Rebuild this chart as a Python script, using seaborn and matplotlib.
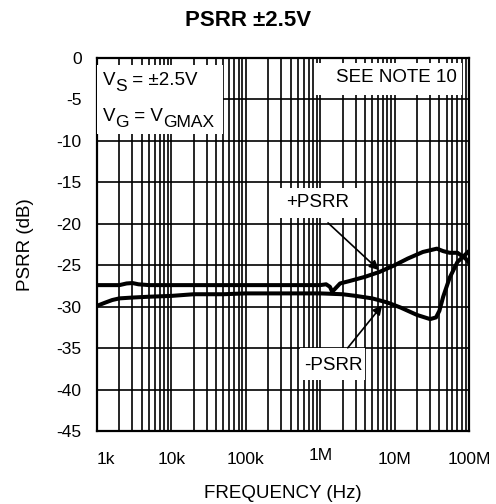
import numpy as np
import pandas as pd
import matplotlib
matplotlib.use("Agg")
import matplotlib.pyplot as plt
import matplotlib.transforms as mtrans
from matplotlib.patches import Rectangle
import seaborn as sns

# ---- data ----
freq_pos = [1e3, 2e3, 2.5e3, 3e3, 3.6e3, 5e3, 1e4, 1e5, 1e6, 1.2e6, 1.35e6,
            1.45e6, 1.6e6, 1.85e6, 2.5e6, 4e6, 6.3e6, 1e7, 1.5e7, 2.4e7,
            3.7e7, 4.5e7, 5.5e7, 7e7, 9e7, 1e8]
psrr_pos = [-27.4, -27.4, -27.2, -27.15, -27.3, -27.4, -27.4, -27.4, -27.4,
            -27.3, -27.6, -28.2, -27.8, -27.2, -26.9, -26.4, -25.8, -25.0,
            -24.2, -23.4, -23.0, -23.3, -23.5, -23.5, -24.2, -24.7]

freq_neg = [1e3, 1.3e3, 1.6e3, 2e3, 3e3, 5e3, 1e4, 2e4, 5e4, 1e5, 3e5, 1e6,
            2e6, 3e6, 5e6, 8e6, 1.2e7, 2e7, 3e7, 3.6e7, 4e7, 4.5e7, 5.5e7,
            7e7, 1e8]
psrr_neg = [-29.9, -29.5, -29.2, -29.0, -28.9, -28.8, -28.7, -28.5, -28.5,
            -28.4, -28.4, -28.4, -28.5, -28.7, -29.0, -29.5, -30.1, -31.0,
            -31.5, -31.3, -30.5, -28.8, -26.5, -24.6, -23.3]

x_ticks = [1e3, 1e4, 1e5, 1e6, 1e7, 1e8]
x_ticklabels = ["1k", "10k", "100k", "1M", "10M", "100M"]
y_ticks = [0, -5, -10, -15, -20, -25, -30, -35, -40, -45]

sns.set_theme(style="white")
plt.rcParams["font.family"] = ["Liberation Sans", "DejaVu Sans"]

fig = plt.figure(figsize=(4.96, 5.04), dpi=100)
ax = fig.add_axes([97 / 496, 1 - 431 / 504, 372 / 496, 373 / 504])

df_pos = pd.DataFrame({"f": freq_pos, "v": psrr_pos})
df_neg = pd.DataFrame({"f": freq_neg, "v": psrr_neg})
sns.lineplot(data=df_pos, x="f", y="v", ax=ax, color="black", lw=2.9,
             estimator=None, zorder=5)
sns.lineplot(data=df_neg, x="f", y="v", ax=ax, color="black", lw=2.9,
             estimator=None, zorder=5)

ax.set_xscale("log")
ax.set_xlim(1e3, 1e8)
ax.set_ylim(-45, 0)
ax.set_xticks(x_ticks)
ax.set_xticklabels(x_ticklabels)
ax.set_xticks([m * d for d in [1e3, 1e4, 1e5, 1e6, 1e7] for m in range(2, 10)],
              minor=True)
ax.set_yticks(y_ticks)
ax.set_yticklabels([str(v) for v in y_ticks])
ax.tick_params(axis="both", which="both", length=0)
ax.tick_params(axis="x", pad=15, labelsize=12.5, colors="black")
ax.tick_params(axis="y", pad=11, labelsize=12.5, colors="black")
ax.grid(True, which="both", axis="x", color="black", lw=1.2)
ax.grid(True, which="major", axis="y", color="black", lw=1.2)
ax.set_axisbelow(True)
for s in ax.spines.values():
    s.set_color("black")
    s.set_linewidth(1.6)

ax.set_xlabel("FREQUENCY (Hz)", fontsize=13.5, color="black", labelpad=13)
ax.set_ylabel("PSRR (dB)", fontsize=13.5, color="black", labelpad=16)
fig.text(0.5, 1 - 20 / 504, "PSRR ±2.5V", ha="center", va="center",
         fontsize=16, fontweight="bold", color="black")

for lab in ax.get_xticklabels():
    t = lab.get_text()
    if t == "1M":
        lab.set_transform(lab.get_transform() +
                          mtrans.ScaledTranslation(0, 4 / 100, fig.dpi_scale_trans))
    if t == "1k":
        lab.set_transform(lab.get_transform() +
                          mtrans.ScaledTranslation(9 / 100, 0, fig.dpi_scale_trans))

def px_box(x0, y0, x1, y1):
    ax0 = (x0 - 97) / 372
    ax1 = (x1 - 97) / 372
    ay0 = (431 - y1) / 373
    ay1 = (431 - y0) / 373
    ax.add_patch(Rectangle((ax0, ay0), ax1 - ax0, ay1 - ay0,
                           transform=ax.transAxes, facecolor="white",
                           edgecolor="none", zorder=3))

px_box(97, 65, 223, 134)
px_box(314, 63, 462, 95)
px_box(278, 188, 358, 218)
px_box(300, 348, 365, 380)

tt = ax.transAxes
def pxt(x, y):
    return ((x - 97) / 372, (431 - y) / 373)

FS = 13.5
SUB = 12.5

def sub_label(x, y, parts):
    fig.canvas.draw()
    r = fig.canvas.get_renderer()
    px = x
    for txt, sub in parts:
        size = SUB if sub else FS
        yy = y + (6 if sub else 0)
        t = ax.text(*pxt(px, yy), txt, transform=tt, ha="left",
                    va="baseline", fontsize=size, color="black", zorder=6)
        bb = t.get_window_extent(renderer=r)
        px += bb.width

sub_label(103, 85, [("V", False), ("S", True), (" = ±2.5V", False)])
sub_label(103, 121, [("V", False), ("G", True), (" = V", False), ("GMAX", True)])

ax.text(*pxt(457, 78), "SEE NOTE 10", transform=tt, ha="right", va="center",
        fontsize=FS, color="black", zorder=6)
ax.text(*pxt(318, 203), "+PSRR", transform=tt, ha="center", va="center",
        fontsize=FS, color="black", zorder=6)
ax.text(*pxt(333, 365), "-PSRR", transform=tt, ha="center", va="center",
        fontsize=FS, color="black", zorder=6)

ax.annotate("", xy=pxt(381, 272), xytext=pxt(326, 221), xycoords=tt,
            textcoords=tt,
            arrowprops=dict(arrowstyle="-|>", color="black", lw=1.2,
                            mutation_scale=14), zorder=6)
ax.annotate("", xy=pxt(384, 303), xytext=pxt(346, 350), xycoords=tt,
            textcoords=tt,
            arrowprops=dict(arrowstyle="-|>", color="black", lw=1.2,
                            mutation_scale=14), zorder=6)

fig.savefig("out.png", dpi=100, facecolor="white")
